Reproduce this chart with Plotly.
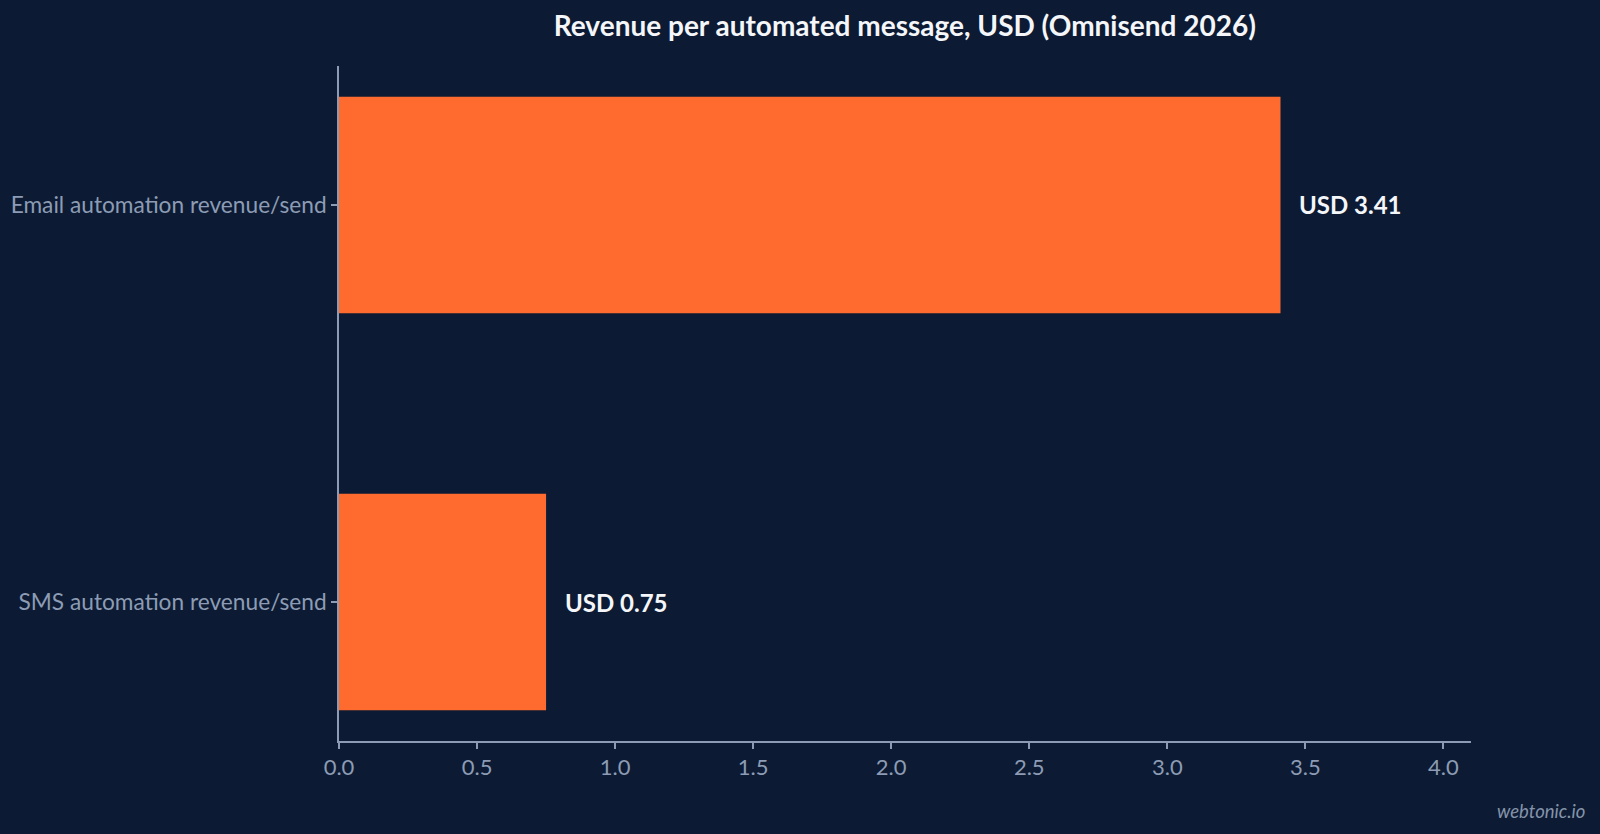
"""Horizontal bar chart: revenue per automated message (Omnisend 2026)."""
import plotly.graph_objects as go

# data
categories = ["Email automation revenue/send", "SMS automation revenue/send"]
values = [3.41, 0.75]
value_labels = ["USD 3.41", "USD 0.75"]
x_ticks = [0.0, 0.5, 1.0, 1.5, 2.0, 2.5, 3.0, 3.5, 4.0]

BG = "#0c1b33"
BAR = "#ff6b2f"
MUTED = "#8d9cb4"
FONT = "Lato, 'Open Sans', sans-serif"

fig = go.Figure(
    go.Bar(
        x=values,
        y=categories,
        orientation="h",
        width=0.545,
        marker=dict(color=BAR, line=dict(width=0)),
        hoverinfo="skip",
    )
)

# value labels to the right of each bar
for cat, val, label in zip(categories, values, value_labels):
    fig.add_annotation(
        x=val, y=cat, text=f"<b>{label}</b>",
        xanchor="left", yanchor="middle", xshift=17, showarrow=False,
        font=dict(family=FONT, size=24, color="#f4f6fa"),
    )

# watermark
fig.add_annotation(
    x=1, y=0, xref="paper", yref="paper", xanchor="right", yanchor="middle",
    text="<i>webtonic.io</i>", showarrow=False, xshift=116, yshift=-70,
    font=dict(family=FONT, size=18.5, color="#8593aa"),
)

fig.update_layout(
    width=1600, height=834,
    paper_bgcolor=BG, plot_bgcolor=BG,
    margin=dict(l=339, r=129, t=66, b=93),
    font=dict(family=FONT, color=MUTED),
    title=dict(
        text="<b>Revenue per automated message, USD (Omnisend 2026)</b>",
        x=0.5655, xanchor="center", y=0.968, yanchor="middle",
        font=dict(family=FONT, size=28, color="#f4f6fa"),
    ),
    showlegend=False,
    xaxis=dict(
        range=[0, 4.1], tickvals=x_ticks, tickformat=".1f",
        showgrid=False, zeroline=False,
        showline=True, linecolor=MUTED, linewidth=1.5,
        ticks="outside", ticklen=6, tickcolor=MUTED, tickwidth=1.5,
        tickfont=dict(size=22, color=MUTED),
    ),
    yaxis=dict(
        range=[1.35, -0.35], categoryorder="array", categoryarray=categories,
        showgrid=False, zeroline=False,
        showline=True, linecolor=MUTED, linewidth=1.5,
        ticks="outside", ticklen=6, tickcolor=MUTED, tickwidth=1.5,
        tickfont=dict(size=22.7, color=MUTED),
    ),
)

# drop the default page margin so the figure fills the window
fig.write_html(
    "out.html",
    config={"displayModeBar": False},
    post_script="document.body.style.margin='0';",
)
